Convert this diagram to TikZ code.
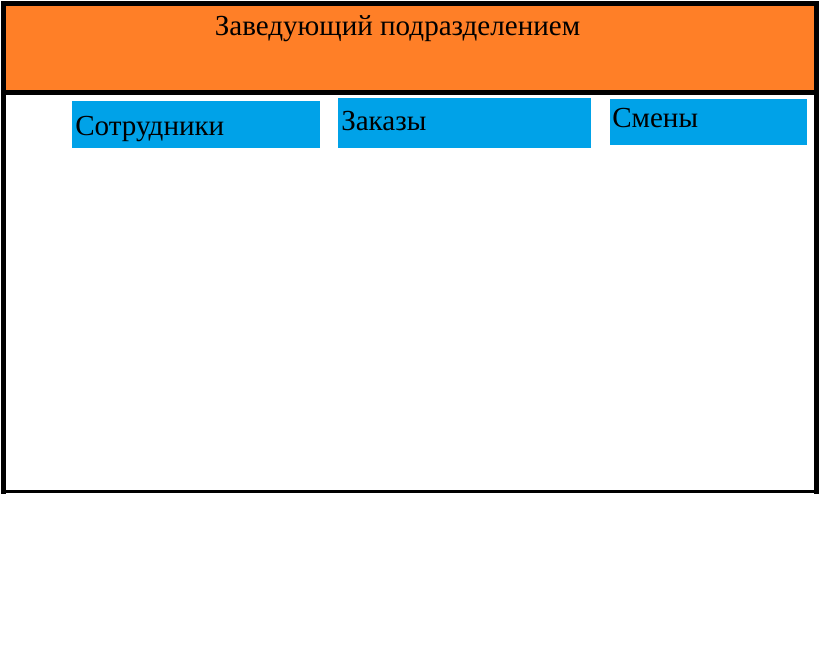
\documentclass[tikz,border=0pt]{standalone}
\usepackage{fontspec}
\setmainfont{Liberation Serif}
\definecolor{hdrorange}{HTML}{FF7F27}
\definecolor{tabblue}{HTML}{00A2E8}
\begin{document}
\begin{tikzpicture}[x=0.75pt,y=-0.75pt,
  hdr/.style={draw=black,line width=3.75pt,fill=hdrorange,anchor=north west,inner sep=0pt,outer sep=0pt},
  bodybox/.style={draw=black,line width=1.9pt,anchor=north west,inner sep=0pt,outer sep=0pt},
  tab/.style={fill=tabblue,anchor=north west,inner sep=0pt,outer sep=0pt},
  lbl/.style={anchor=base west,inner sep=0pt,font=\fontsize{21.8pt}{26pt}\selectfont},
  sideline/.style={line width=3.75pt,line cap=rect}]
\useasboundingbox (0,0) rectangle (820,646);
% body frame
\node[bodybox,minimum width=813*0.75pt,minimum height=398.8*0.75pt] (body) at (3.5,92.5) {};
\draw[sideline] (body.north west) -- (body.south west);
\draw[sideline] (body.north east) -- (body.south east);
% header
\node[hdr,minimum width=813*0.75pt,minimum height=89.5*0.75pt] (head) at (3.5,3) {};
\node[anchor=base,inner sep=0pt,font=\fontsize{21.8pt}{26pt}\selectfont] (headtxt) at (397.5,35) {Заведующий подразделением};
% tabs
\node[tab,minimum width=248*0.75pt,minimum height=46.5*0.75pt] (t1) at (72,101) {};
\node[lbl] (t1txt) at (75,135) {Сотрудники};
\node[tab,minimum width=253*0.75pt,minimum height=49.5*0.75pt] (t2) at (338,98) {};
\node[lbl] (t2txt) at (341,130) {Заказы};
\node[tab,minimum width=197*0.75pt,minimum height=46*0.75pt] (t3) at (610,99) {};
\node[lbl] (t3txt) at (612,127) {Смены};
\end{tikzpicture}
\end{document}
